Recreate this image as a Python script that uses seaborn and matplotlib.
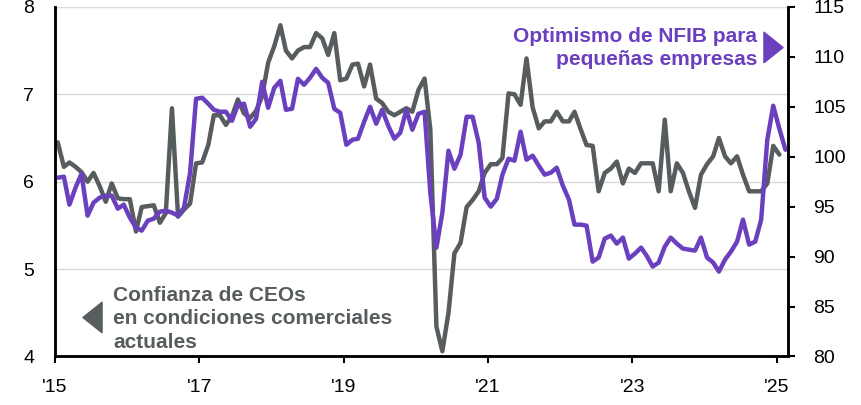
import numpy as np
import pandas as pd
import seaborn as sns
import matplotlib.pyplot as plt

# Confianza de CEOs (eje izq.), mensual ene-2015 .. ene-2025
ceo = [6.45, 6.17, 6.22, 6.17, 6.11, 6.00, 6.10, 5.95, 5.77, 5.98, 5.81, 5.80,
       5.80, 5.43, 5.71, 5.72, 5.73, 5.53, 5.64, 6.84, 5.60, 5.68, 5.75, 6.21,
       6.22, 6.42, 6.76, 6.76, 6.65, 6.75, 6.94, 6.78, 6.73, 6.81, 6.98, 7.36,
       7.55, 7.79, 7.50, 7.41, 7.50, 7.54, 7.54, 7.70, 7.64, 7.45, 7.70, 7.16,
       7.18, 7.34, 7.35, 7.09, 7.34, 6.95, 6.90, 6.80, 6.76, 6.80, 6.84, 6.80,
       7.05, 7.18, 6.60, 4.34, 4.06, 4.50, 5.18, 5.30, 5.71, 5.79, 5.89, 6.10,
       6.20, 6.20, 6.27, 7.01, 7.00, 6.88, 7.41, 6.85, 6.61, 6.69, 6.69, 6.80,
       6.69, 6.69, 6.80, 6.60, 6.42, 6.41, 5.89, 6.10, 6.15, 6.23, 5.98, 6.15,
       6.10, 6.21, 6.21, 6.21, 5.89, 6.71, 5.89, 6.21, 6.10, 5.89, 5.70, 6.08,
       6.20, 6.29, 6.50, 6.29, 6.21, 6.29, 6.08, 5.89, 5.89, 5.89, 5.98, 6.41,
       6.31]

# Optimismo NFIB (eje der.), mensual ene-2015 .. feb-2025
nfib = [97.9, 98.0, 95.2, 96.9, 98.3, 94.1, 95.4, 95.9, 96.1, 96.1, 94.8, 95.2,
        93.9, 92.9, 92.6, 93.6, 93.8, 94.5, 94.6, 94.4, 94.1, 94.9, 98.4, 105.8,
        105.9, 105.3, 104.7, 104.5, 104.5, 103.6, 105.2, 105.3, 103.0, 103.8, 107.5, 104.9,
        106.9, 107.6, 104.7, 104.8, 107.8, 107.2, 107.9, 108.8, 107.9, 107.4, 104.8, 104.4,
        101.2, 101.7, 101.8, 103.5, 105.0, 103.3, 104.7, 103.1, 101.8, 102.4, 104.7, 102.7,
        104.3, 104.5, 96.4, 90.9, 94.4, 100.6, 98.8, 100.2, 104.0, 104.0, 101.4, 95.9,
        95.0, 95.8, 98.2, 99.8, 99.6, 102.5, 99.7, 100.1, 99.1, 98.2, 98.4, 98.9,
        97.1, 95.7, 93.2, 93.2, 93.1, 89.5, 89.9, 91.8, 92.1, 91.3, 91.9, 89.8,
        90.3, 90.9, 90.1, 89.0, 89.4, 91.0, 91.9, 91.3, 90.8, 90.7, 90.6, 91.9,
        89.9, 89.4, 88.5, 89.7, 90.5, 91.5, 93.7, 91.2, 91.5, 93.7, 101.7, 105.1,
        102.8, 100.7]

tick_years = [2015, 2017, 2019, 2021, 2023, 2025]
tick_labels = ["'15", "'17", "'19", "'21", "'23", "'25"]

purple = '#6B40BF'
gray = '#575C5F'

dates = pd.date_range('2015-01-01', periods=len(nfib), freq='MS') + pd.Timedelta(days=14)
df_ceo = pd.DataFrame({'fecha': dates[:len(ceo)], 'valor': ceo})
df_nfib = pd.DataFrame({'fecha': dates, 'valor': nfib})

sns.set_style('white')
plt.rcParams['font.family'] = ['Liberation Sans', 'DejaVu Sans']

fig = plt.figure(figsize=(8.62, 4.05), dpi=100)
ax = fig.add_axes([0.0638, 0.1198, 0.8504, 0.8632])
ax2 = ax.twinx()

sns.lineplot(data=df_ceo, x='fecha', y='valor', ax=ax, color=gray, linewidth=3.2)
sns.lineplot(data=df_nfib, x='fecha', y='valor', ax=ax2, color=purple, linewidth=3.2)

ax.set_xlim(pd.Timestamp('2015-01-01'), pd.Timestamp('2025-02-28'))
ax.set_ylim(4, 8)
ax2.set_ylim(80, 115)
ax.set_yticks([4, 5, 6, 7, 8])
ax2.set_yticks(list(range(80, 116, 5)))
ax.set_xticks([pd.Timestamp(f'{y}-01-01') for y in tick_years])
ax.set_xticklabels(tick_labels)

ax.set_xlabel('')
ax.set_ylabel('')
ax2.set_ylabel('')

ax.yaxis.grid(True, color='#d9d9d9', linewidth=1)
ax.set_axisbelow(True)
ax2.grid(False)

for a in (ax, ax2):
    a.spines['top'].set_visible(False)
    for s in ('left', 'right', 'bottom'):
        a.spines[s].set_color('black')
        a.spines[s].set_linewidth(1.8)

ax.tick_params(axis='y', length=0, pad=15, labelsize=14, colors='black')
ax.tick_params(axis='x', length=5, width=1.5, pad=11, labelsize=14,
               direction='out', colors='black', bottom=True)
ax2.tick_params(axis='y', which='major', length=5, width=1.5, pad=13, labelsize=14,
                direction='out', colors='black', right=True, left=False,
                labelright=True, labelleft=False)

ax.text(0.9577, 0.882, 'Optimismo de NFIB para\npequeñas empresas',
        transform=ax.transAxes, ha='right', va='center', multialignment='right',
        fontsize=15, fontweight='bold', color=purple, linespacing=1.3)
ax.text(0.0791, 0.108, 'Confianza de CEOs\nen condiciones comerciales\nactuales',
        transform=ax.transAxes, ha='left', va='center', multialignment='left',
        fontsize=15, fontweight='bold', color=gray, linespacing=1.3)

tri_right = [(-1, -1.6), (1, 0), (-1, 1.6), (-1, -1.6)]
tri_left = [(1, -1.6), (-1, 0), (1, 1.6), (1, -1.6)]
ax.plot([0.9796], [0.885], marker=tri_right, markersize=22, color=purple,
        transform=ax.transAxes, clip_on=False, linestyle='none')
ax.plot([0.0505], [0.113], marker=tri_left, markersize=22, color=gray,
        transform=ax.transAxes, clip_on=False, linestyle='none')

fig.savefig('out.png', dpi=100)
